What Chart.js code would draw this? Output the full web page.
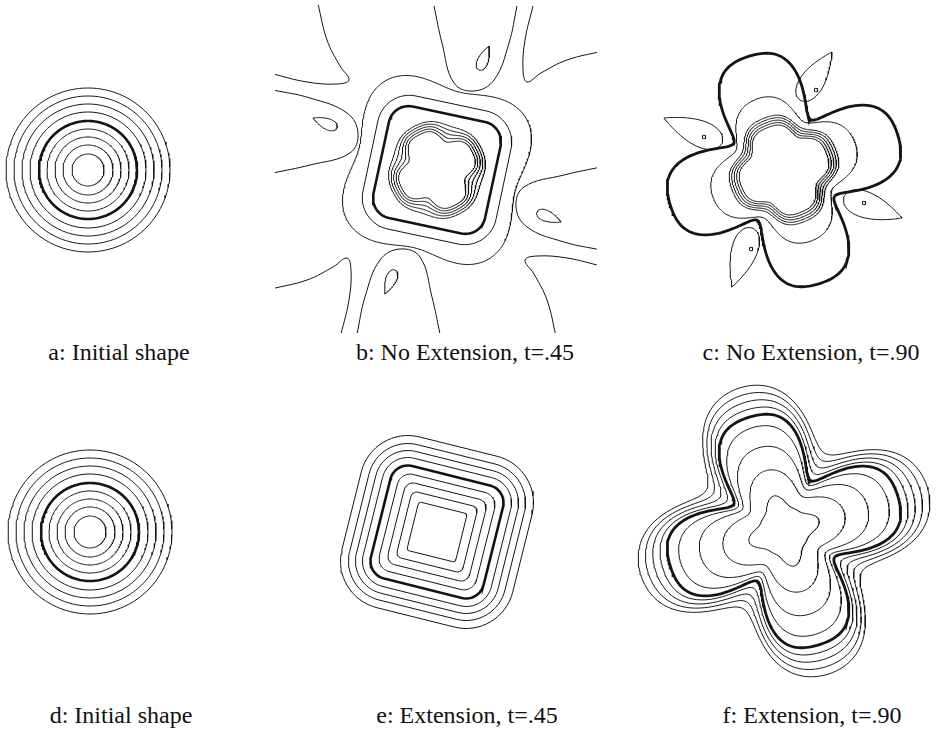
<!DOCTYPE html>
<html>
<head>
<meta charset="utf-8">
<script src="https://cdn.jsdelivr.net/npm/chart.js@4/dist/chart.umd.min.js"></script>
<style>
body { margin: 0; width: 938px; height: 730px; background: #fff; position: relative; overflow: hidden; }
.panel { position: absolute; }
.cap { position: absolute; font-family: "Liberation Serif", serif; font-size: 24px; line-height: 24px; color: #111; white-space: nowrap; transform: translateX(-50%); }
</style>
</head>
<body>
<script>
// a, d: initial shape, concentric circles (radius)
var circleRadii = [82, 74, 66, 58, 49, 41, 33, 25, 16];
var circleThick = 49;

// b: no extension, t=.45
var bLobeR = [36, 39, 42, 45, 48];
var bLobeAmp = [5, 4.2, 3.4, 2.6, 1.8];
var bLobePhase = -27;
var bSquareHalf = [57, 68];
var bSquareCorner = [20, 32];
var bSquareTurn = 12;
var bWavy = [92, 11, -30];          // r0, amplitude, phase
// left teardrop (round end, tip, half width); the other three are turned copies
var bDrop = [-100, -42, -124, -52, 5.5];
// open curves on the left side, turned for the other sides
var bOpenU = [[-164, -80], [-127, -72], [-90, -57], [-79, -37], [-87, -17], [-127, -5], [-164, 3]];
var bCorner = [[-119, -166], [-110, -130], [-97, -104], [-88, -90], [-100, -86], [-130, -88], [-164, -96]];
var bTurns = [0, 90, 180, 270];

// c and f: the zero level (thick flower)
var flower = [95, 31, -7];          // r0, a4, a8
var flowerPhase = -17;
var cInnerR = [42, 44.5, 47, 49.5, 52];
var cInnerAmp = 5;
var cOuter = [66, 12, -2];
var cPhase = -22;
// teardrops: back x, back y, tip x, tip y, half width (page units)
var cDrops = [[800, 100, 832, 52, 12], [722, 143, 664, 118, 13], [844, 197, 902, 218, 13], [752, 228, 732, 287, 13]];
var cDots = [[816, 90], [704, 137], [864, 203], [751, 249]];

// e: extension, t=.45 (rounded squares: half size, corner radius)
var eHalf = [88, 80, 73, 66, 58, 50, 42, 34, 25];
var eCorner = [48, 40, 33, 26, 18, 13, 9, 6, 3];
var eThick = 58;
var eTurn = 14;

// f: extension, t=.90
var fOffsets = [7, 14, 21, 28];
var fInner = [[85, 28, -5], [70, 20, -3], [52, 12, -1], [29, 6, 1.5]];

var captions = ['a: Initial shape', 'b: No Extension, t=.45', 'c: No Extension, t=.90',
                'd: Initial shape', 'e: Extension, t=.45', 'f: Extension, t=.90'];

var INK = '#141414';

function rotate(pts, deg) {
  var a = deg * Math.PI / 180, c = Math.cos(a), s = Math.sin(a);
  return pts.map(function(p) { return [p[0] * c - p[1] * s, p[0] * s + p[1] * c]; });
}

function circle(r) {
  var pts = [];
  for (var i = 0; i <= 180; i++) {
    var t = i / 180 * 2 * Math.PI;
    pts.push([r * Math.cos(t), r * Math.sin(t)]);
  }
  return pts;
}

function lobed(r0, a4, a8, phase) {
  var pts = [];
  for (var i = 0; i <= 360; i++) {
    var t = i / 360 * 2 * Math.PI, u = t - phase * Math.PI / 180;
    var r = r0 + a4 * Math.cos(4 * u) + a8 * Math.cos(8 * u);
    pts.push([r * Math.cos(t), r * Math.sin(t)]);
  }
  return pts;
}

function roundedSquare(h, c, rot) {
  var pts = [], k = h - c, centers = [[k, k], [-k, k], [-k, -k], [k, -k]];
  for (var q = 0; q < 4; q++) {
    for (var i = 0; i <= 16; i++) {
      var a = (q * 90 + i * 90 / 16) * Math.PI / 180;
      pts.push([centers[q][0] + c * Math.cos(a), centers[q][1] + c * Math.sin(a)]);
    }
  }
  pts.push(pts[0]);
  return rotate(pts, rot);
}

function teardrop(d) {
  var bx = d[0], by = d[1], dx = d[2] - bx, dy = d[3] - by;
  var L = Math.hypot(dx, dy), ux = dx / L, uy = dy / L, pts = [];
  for (var i = 0; i <= 80; i++) {
    var t = i / 80 * 2 * Math.PI;
    var along = (Math.cos(t) + 1) / 2 * L;
    var across = Math.sin(t) * Math.sin(t / 2) * d[4] / 0.77;
    pts.push([bx + ux * along - uy * across, by + uy * along + ux * across]);
  }
  return pts;
}

function line(pts, width, smooth) {
  return {
    data: pts.map(function(p) { return {x: p[0], y: p[1]}; }),
    showLine: true, pointRadius: 0, borderColor: INK, borderWidth: width,
    tension: smooth ? 0.4 : 0, fill: false
  };
}

function makePanel(left, top, w, h, xmin, ymin, datasets) {
  var div = document.createElement('div');
  div.className = 'panel';
  div.style.left = left + 'px'; div.style.top = top + 'px';
  div.style.width = w + 'px'; div.style.height = h + 'px';
  var cv = document.createElement('canvas');
  div.appendChild(cv);
  document.body.appendChild(div);
  new Chart(cv, {
    type: 'scatter',
    data: {datasets: datasets},
    options: {
      responsive: true, maintainAspectRatio: false, animation: false,
      layout: {padding: 0},
      plugins: {legend: {display: false}, tooltip: {enabled: false}},
      scales: {
        x: {type: 'linear', display: false, min: xmin, max: xmin + w},
        y: {type: 'linear', display: false, min: ymin, max: ymin + h, reverse: true}
      }
    }
  });
}

function centred(cx, cy, datasets) {
  makePanel(cx - 165, cy - 165, 330, 330, -165, -165, datasets);
}

function shift(pts, dx, dy) {
  return pts.map(function(p) { return [p[0] + dx, p[1] + dy]; });
}

// a and d
function circles() {
  return circleRadii.map(function(r) { return line(circle(r), r === circleThick ? 2.6 : 1); });
}
centred(88, 170, circles());
centred(90, 532, circles());

// b
var bSets = [];
bLobeR.forEach(function(r, i) { bSets.push(line(lobed(r, bLobeAmp[i], -bLobeAmp[i] * 0.3, bLobePhase), 1)); });
bSquareHalf.forEach(function(hh, i) { bSets.push(line(roundedSquare(hh, bSquareCorner[i], bSquareTurn), i === 0 ? 2.6 : 1)); });
bSets.push(line(lobed(bWavy[0], bWavy[1], 0, bWavy[2]), 1));
var dropPts = teardrop(bDrop);
bTurns.forEach(function(deg) {
  bSets.push(line(rotate(dropPts, deg), 1));
  bSets.push(line(rotate(bOpenU, deg), 1, true));
  bSets.push(line(rotate(bCorner, deg), 1, true));
});
makePanel(275, 5, 322, 328, -162, -165, bSets);

// c
var cSets = [line(lobed(flower[0], flower[1], flower[2], flowerPhase), 2.8)];
cInnerR.forEach(function(r) { cSets.push(line(lobed(r, cInnerAmp, -1.5, cPhase), 1)); });
cSets.push(line(lobed(cOuter[0], cOuter[1], cOuter[2], cPhase), 1));
cDrops.forEach(function(d) {
  cSets.push(line(teardrop([d[0] - 784, d[1] - 170, d[2] - 784, d[3] - 170, d[4]]), 1));
});
cDots.forEach(function(p) { cSets.push(line(shift(circle(1.8), p[0] - 784, p[1] - 170), 1)); });
centred(784, 170, cSets);

// e
var eSets = eHalf.map(function(hh, i) { return line(roundedSquare(hh, eCorner[i], eTurn), hh === eThick ? 2.6 : 1); });
centred(437, 532, eSets);

// f
var fSets = [line(lobed(flower[0], flower[1], flower[2], flowerPhase), 2.8)];
fOffsets.forEach(function(o) { fSets.push(line(lobed(flower[0] + o, flower[1], flower[2] + o * 0.1, flowerPhase), 1)); });
fInner.forEach(function(p) { fSets.push(line(lobed(p[0], p[1], p[2], flowerPhase), 1)); });
centred(784, 531, fSets);

// captions
var capX = [119, 465, 811, 121, 467, 812];
var capTop = [340, 340, 340, 703, 703, 703];
captions.forEach(function(t, i) {
  var el = document.createElement('div');
  el.className = 'cap';
  el.textContent = t;
  el.style.left = capX[i] + 'px';
  el.style.top = capTop[i] + 'px';
  document.body.appendChild(el);
});
</script>
</body>
</html>
